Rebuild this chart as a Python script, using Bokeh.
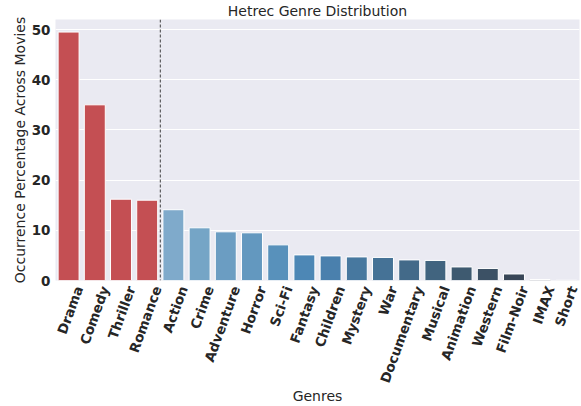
import math
from bokeh.plotting import figure
from bokeh.models import (Range1d, Span, SingleIntervalTicker,
                          LinearAxis, FixedTicker, ColumnDataSource)
from bokeh.embed import file_html
from bokeh.resources import INLINE

# ---- data ----
genres = ["Drama", "Comedy", "Thriller", "Romance", "Action", "Crime", "Adventure",
          "Horror", "Sci-Fi", "Fantasy", "Children", "Mystery", "War", "Documentary",
          "Musical", "Animation", "Western", "Film-Noir", "IMAX", "Short"]
percent = [49.5, 35.0, 16.2, 16.0, 14.1, 10.5, 9.7, 9.5, 7.1, 5.1, 4.9, 4.7, 4.6,
           4.1, 4.0, 2.7, 2.4, 1.3, 0.2, 0.05]
top_genres = ["Drama", "Comedy", "Thriller", "Romance"]
red = "#c44f53"
blues = ["#7faacb", "#75a5c6", "#6b9dc2", "#6398bf", "#5891bb", "#4d87b5", "#4a80ad",
         "#47789f", "#457296", "#436a89", "#41647f", "#3e5a70", "#3c5165", "#384657",
         "#353f4b", "#333a43"]
title_text = "Hetrec Genre Distribution"
x_label = "Genres"
y_label = "Occurrence Percentage Across Movies"

n = len(genres)
colors = [red] * len(top_genres) + blues[: n - len(top_genres)]
src = ColumnDataSource(dict(pos=list(range(n)), genre=genres, pct=percent, color=colors))

FONT = "DejaVu Sans"
TXT = "#262626"

p = figure(x_range=Range1d(-0.5, n - 0.5), y_range=Range1d(0, 52),
           width=580, height=406, title=title_text,
           min_border_left=55, min_border_right=1, min_border_top=0, min_border_bottom=0,
           output_backend="svg", toolbar_location=None)

p.title.align = "center"
p.title.text_font = FONT
p.title.text_font_size = "14px"
p.title.text_font_style = "normal"
p.title.text_color = TXT
p.title.standoff = 1
p.title.offset = 0

p.background_fill_color = "#eaeaf2"
p.border_fill_color = "white"
p.outline_line_color = None

p.vbar(x="pos", top="pct", width=0.8, fill_color="color", line_color="white",
       line_width=1, source=src)

split = Span(location=len(top_genres) - 0.5, dimension="height", line_color="#404040",
             line_width=1, line_dash="3 2")
p.add_layout(split)

# default x axis hidden; genre labels come from an axis on a slightly shifted range so the
# rotated labels sit centred under their bars as in the reference
p.xaxis.visible = False
shift = 0.38
p.extra_x_ranges = {"labels": Range1d(-0.5 - shift, n - 0.5 - shift)}
lab_axis = LinearAxis(x_range_name="labels",
                      ticker=FixedTicker(ticks=list(range(n))),
                      major_label_overrides={i: g for i, g in enumerate(genres)})
p.add_layout(lab_axis, "below")

# grids
p.xgrid.grid_line_color = None
p.ygrid.grid_line_color = "white"
p.ygrid.grid_line_width = 1.2
p.yaxis.ticker = SingleIntervalTicker(interval=10)

for ax in (lab_axis, p.yaxis[0]):
    ax.axis_line_color = None
    ax.major_tick_line_color = None
    ax.minor_tick_line_color = None
    ax.major_tick_out = 0
    ax.major_tick_in = 0
    ax.minor_tick_out = 0
    ax.minor_tick_in = 0
    ax.major_label_text_font = FONT
    ax.major_label_text_font_style = "bold"
    ax.major_label_text_font_size = "13.5px"
    ax.major_label_text_color = TXT
    ax.axis_label_text_font = FONT
    ax.axis_label_text_font_style = "normal"
    ax.axis_label_text_font_size = "14px"
    ax.axis_label_text_color = TXT

lab_axis.major_label_orientation = math.radians(70)
lab_axis.major_label_standoff = 6
lab_axis.axis_label = x_label
lab_axis.axis_label_standoff = -3

p.yaxis.major_label_standoff = 5
p.yaxis.axis_label = y_label
p.yaxis.axis_label_standoff = 1

open("out.html", "w").write(file_html(p, INLINE))
